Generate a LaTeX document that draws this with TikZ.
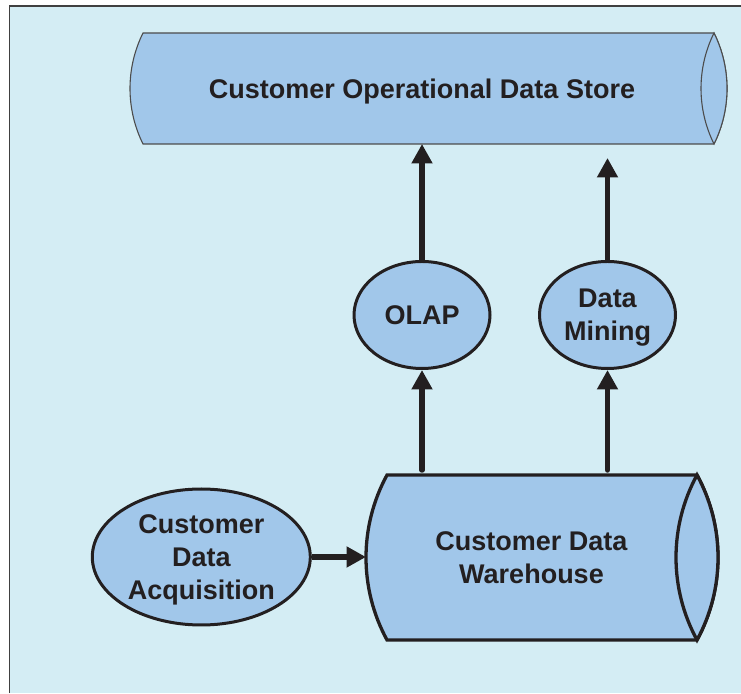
\documentclass[tikz,border=0pt]{standalone}
\usepackage{fontspec}
\setmainfont{Liberation Sans}
\usetikzlibrary{arrows.meta,shapes.geometric,backgrounds}

\definecolor{paper}{RGB}{212,237,244}
\definecolor{boxfill}{RGB}{161,199,234}
\definecolor{ink}{RGB}{35,31,32}

\tikzset{
  label text/.style={font=\fontsize{27}{33}\selectfont\bfseries, text=ink, align=center, text depth=0pt},
  tank/.style={label text, inner sep=0pt, outer sep=0pt},
  oval/.style={label text, ellipse, draw=ink, line width=3pt, fill=boxfill, inner sep=0pt},
  flow/.style={draw=ink, line width=5.5pt, -{Triangle[length=19.5pt,width=20pt]}}
}

\begin{document}
\begin{tikzpicture}[x=1pt, y=1pt]
  \useasboundingbox (0,0) rectangle (741,693);
  \node[tank, minimum width=584pt, minimum height=111pt] (ods) at (422,604.5) {Customer Operational Data Store};
  \node[oval, minimum width=136pt, minimum height=107pt] (olap) at (422,378) {OLAP};
  \node[oval, minimum width=136pt, minimum height=107pt] (mining) at (607.5,378) {Data\\Mining};
  \node[tank, minimum width=331pt, minimum height=165pt] (dw) at (531.5,135.5) {Customer Data\\Warehouse};
  \node[oval, minimum width=218pt, minimum height=136pt] (acq) at (201.3,136) {Customer\\Data\\Acquisition};

  \begin{pgfonlayer}{background}
    \fill[paper] (9.5,0) rectangle (741,687);
    \draw[black!75, line width=1.2pt] (9.5,0) -- (9.5,687) -- (741,687);
    % store: end caps are circle arcs, radius 125
    \draw[black!70, line width=1.1pt, fill=boxfill]
      ([xshift=13pt]ods.south west) arc[start angle=206.36, end angle=153.64, radius=125]
      -- (ods.north east) arc[start angle=26.36, end angle=-26.36, radius=125] -- cycle;
    \draw[black!70, line width=1.1pt, fill=boxfill]
      (ods.north east) arc[start angle=26.36, end angle=-26.36, radius=125]
      arc[start angle=206.36, end angle=153.64, radius=125] -- cycle;
    % warehouse: radius 172.5
    \draw[ink, line width=3.3pt, fill=boxfill]
      ([xshift=21pt]dw.south west) arc[start angle=208.57, end angle=151.43, radius=172.5]
      -- (dw.north east) arc[start angle=28.57, end angle=-28.57, radius=172.5] -- cycle;
    \draw[ink, line width=3.3pt, fill=boxfill]
      (dw.north east) arc[start angle=28.57, end angle=-28.57, radius=172.5]
      arc[start angle=208.57, end angle=151.43, radius=172.5] -- cycle;
  \end{pgfonlayer}

  \draw[flow] (olap) -- (olap |- ods.south);
  \draw[flow, shorten >=14pt] (mining) -- (mining |- ods.south);
  \draw[flow, line cap=round, shorten <=5pt] (olap |- dw.north) -- (olap);
  \draw[flow, line cap=round, shorten <=5pt] (mining |- dw.north) -- (mining);
  \draw[flow] (acq) -- (acq -| dw.west);
\end{tikzpicture}
\end{document}
